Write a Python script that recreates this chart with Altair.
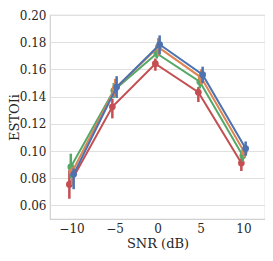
import altair as alt
import pandas as pd

snr = [-10, -5, 0, 5, 10]
series = ["red", "green", "orange", "blue"]
colors = ["#C44E52", "#55A868", "#DD8452", "#4C72B0"]
dodge = [-0.25, -0.083, 0.083, 0.25]

mean_red = [0.0754, 0.1325, 0.1642, 0.1432, 0.0911]
mean_green = [0.0883, 0.1445, 0.1717, 0.1509, 0.0965]
mean_orange = [0.0848, 0.1460, 0.1764, 0.1540, 0.0993]
mean_blue = [0.0829, 0.1470, 0.1783, 0.1561, 0.1018]

lo_red = [0.0649, 0.1240, 0.1590, 0.1360, 0.0853]
hi_red = [0.0859, 0.1385, 0.1680, 0.1470, 0.0946]
lo_green = [0.0800, 0.1390, 0.1680, 0.1460, 0.0922]
hi_green = [0.0980, 0.1500, 0.1760, 0.1560, 0.1000]
lo_orange = [0.0750, 0.1400, 0.1700, 0.1490, 0.0953]
hi_orange = [0.0880, 0.1530, 0.1830, 0.1600, 0.1045]
lo_blue = [0.0719, 0.1390, 0.1710, 0.1500, 0.0965]
hi_blue = [0.0871, 0.1550, 0.1850, 0.1620, 0.1070]

yticks = [0.06, 0.08, 0.10, 0.12, 0.14, 0.16, 0.18, 0.20]

means = [mean_red, mean_green, mean_orange, mean_blue]
los = [lo_red, lo_green, lo_orange, lo_blue]
his = [hi_red, hi_green, hi_orange, hi_blue]

rows = []
for k, s in enumerate(series):
    for i, x in enumerate(snr):
        rows.append({"series": s, "order": k, "snr": x, "dodge": dodge[k],
                     "mean": means[k][i], "lo": los[k][i], "hi": his[k][i]})
df = pd.DataFrame(rows)

font = "DejaVu Serif"
xscale = alt.Scale(domain=[-12.5, 12.5], nice=False, zero=False)
yscale = alt.Scale(domain=[0.05, 0.20], nice=False, zero=False)
cscale = alt.Scale(domain=series, range=colors)

xaxis = alt.Axis(values=snr, format="d", grid=False, ticks=False,
                 domain=False, labelPadding=4, labelOverlap=False, labelFlush=False,
                 titleY=28, titleBaseline="alphabetic",
                 labelFont=font, titleFont=font, labelFontSize=12, titleFontSize=13)
yaxis = alt.Axis(values=yticks, format=".2f", ticks=False, domain=False,
                 labelPadding=4, labelOverlap=False, labelFlush=False,
                 labelBound=False, titleX=-32, titleY=102,
                 titleBaseline="alphabetic", titleAlign="center", titleAngle=270,
                 labelFont=font, titleFont=font, labelFontSize=12, titleFontSize=13)

base = alt.Chart(df).transform_calculate(xd="datum.snr + datum.dodge")

xenc = alt.X("xd:Q", scale=xscale, title="SNR (dB)", axis=xaxis)
yenc = alt.Y("mean:Q", scale=yscale, title="ESTOIi", axis=yaxis)
y_lo = alt.Y("lo:Q", scale=yscale, title="ESTOIi", axis=yaxis)

lines = base.mark_line(strokeWidth=2).encode(
    x=xenc, y=yenc,
    color=alt.Color("series:N", scale=cscale, legend=None),
    detail="series:N", order="snr:Q")

err = base.mark_rule(strokeWidth=2.5).encode(
    x=xenc, y=y_lo, y2="hi:Q",
    color=alt.Color("series:N", scale=cscale, legend=None))

pts = base.mark_circle(size=45, opacity=1).encode(
    x=xenc, y=yenc,
    color=alt.Color("series:N", scale=cscale, legend=None),
    order="order:Q")

layers = []
for s in series:
    f = alt.datum.series == s
    layers += [lines.transform_filter(f), err.transform_filter(f), pts.transform_filter(f)]

chart = alt.layer(*layers).properties(
    width=215, height=204,
    autosize=alt.AutoSizeParams(type="none"),
    padding={"left": 42, "top": 7, "right": 0, "bottom": 34},
    background="white",
).configure_view(stroke="#d0d0d0", strokeWidth=1.2).configure_axis(
    labelColor="#262626", titleColor="#262626", titleFontWeight="normal",
    gridColor="#e0e0e0", gridWidth=1.2, labelOverlap=False,
)

chart.save("out.html", embed_options={"renderer": "svg", "actions": False})
